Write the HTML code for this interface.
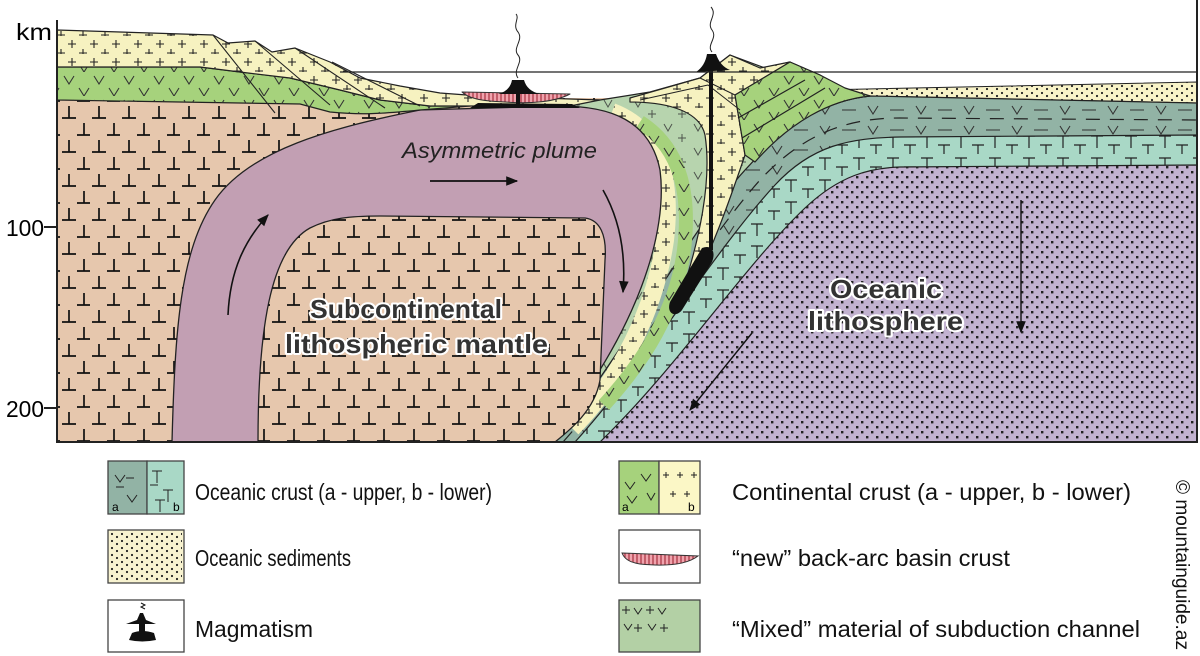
<!DOCTYPE html>
<html><head><meta charset="utf-8"><style>
html,body{margin:0;padding:0;background:#fff;}
svg{display:block;}
text{font-family:"Liberation Sans",Arial,sans-serif;}
</style></head><body>
<svg width="1200" height="656" viewBox="0 0 1200 656" xmlns="http://www.w3.org/2000/svg">
<defs>
<pattern id="pplus" width="22" height="18" patternUnits="userSpaceOnUse">
<path d="M6 4v8M2 8h8M17 13v8M13 17h8" stroke="#222" stroke-width="1.1" fill="none"/></pattern>
<pattern id="pv" width="30" height="24" patternUnits="userSpaceOnUse">
<path d="M4 4l5 8 5-8M19 16l5 8 5-8" stroke="#333" stroke-width="1.1" fill="none"/></pattern>
<pattern id="pt" width="30" height="34" patternUnits="userSpaceOnUse">
<path d="M2 16h14M9 4v12M17 33h14M24 21v12" stroke="#111" stroke-width="1.7" fill="none"/></pattern>
<pattern id="ptt" width="34" height="22" patternUnits="userSpaceOnUse">
<path d="M3 4h12M9 4v12M20 13h12M26 13v12" stroke="#222" stroke-width="1.2" fill="none"/></pattern>
<pattern id="pdot" width="10" height="10" patternUnits="userSpaceOnUse">
<rect x="1" y="1" width="2.4" height="2.4" fill="#222"/><rect x="6" y="6" width="2.4" height="2.4" fill="#222"/></pattern>
<pattern id="psed" width="10" height="7" patternUnits="userSpaceOnUse">
<circle cx="2" cy="2" r="1.1" fill="#222"/><circle cx="7" cy="5" r="1.1" fill="#222"/></pattern>
<pattern id="pvd" width="48" height="20" patternUnits="userSpaceOnUse">
<path d="M4 6l5 8 5-8M26 10h14" stroke="#333" stroke-width="1.1" fill="none"/></pattern>
<pattern id="pmix" width="30" height="24" patternUnits="userSpaceOnUse">
<path d="M4 4l4 7 4-7M22 14v8M18 18h8" stroke="#333" stroke-width="1" fill="none"/></pattern>
<pattern id="pstripe" width="4" height="10" patternUnits="userSpaceOnUse">
<rect width="4" height="10" fill="#f0a3ad"/><path d="M1 0v10" stroke="#a5303e" stroke-width="1.2"/></pattern>
<marker id="ah2" viewBox="0 0 10 10" refX="9" refY="5" markerWidth="14" markerHeight="12" orient="auto" markerUnits="userSpaceOnUse"><path d="M0 1L10 5L0 9Z" fill="#111"/></marker>
<clipPath id="frame"><rect x="57" y="0" width="1140" height="442"/></clipPath>
</defs>

<g clip-path="url(#frame)" stroke-linejoin="round">
<!-- mantle -->
<rect x="57" y="98" width="600" height="344" fill="#e6c7ad"/>
<rect x="57" y="98" width="600" height="344" fill="url(#pt)"/>

<!-- sediments -->
<path d="M820 90 L1197 82 L1197 103 L870 96 Z" fill="#f8f3c8" stroke="#222" stroke-width="1"/>
<path d="M820 90 L1197 82 L1197 103 L870 96 Z" fill="url(#psed)"/>
<!-- upper oceanic crust -->
<path d="M552 442 C620 360 690 230 745 170 C790 120 830 100 870 96 L1197 103 L1197 442 Z" fill="#92b3a5" stroke="#222" stroke-width="1.2"/>
<path d="M552 442 C620 360 690 230 745 170 C790 120 830 100 870 96 L1197 103 L1197 442 Z" fill="url(#pvd)"/>
<path d="M563 442 C632 365 702 245 760 180 C802 135 845 118 900 118 L1197 120" fill="none" stroke="#222" stroke-width="1.2" stroke-dasharray="14 10"/>
<!-- lower oceanic crust -->
<path d="M575 442 C645 365 715 250 775 185 C812 145 850 138 900 137 L1197 135 L1197 442 Z" fill="#a9d8c6" stroke="#222" stroke-width="1.2"/>
<path d="M575 442 C645 365 715 250 775 185 C812 145 850 138 900 137 L1197 135 L1197 442 Z" fill="url(#ptt)"/>
<!-- oceanic lithosphere -->
<path d="M600 442 C675 370 745 265 805 208 C840 175 870 168 900 167 L1197 165 L1197 442 Z" fill="#c2b2d0" stroke="#222" stroke-width="1.2"/>
<path d="M600 442 C675 370 745 265 805 208 C840 175 870 168 900 167 L1197 165 L1197 442 Z" fill="url(#pdot)"/>

<!-- wedge mixed -->
<path d="M540 442 L552 442 C620 360 690 230 745 170 C790 120 830 100 870 96 L840 88 L820 75 L790 62 L765 68 L730 55 L700 78 L650 92 L600 100 L560 100 Z" fill="#b7d4ae" stroke="#222" stroke-width="1.2"/>
<path d="M540 442 L552 442 C620 360 690 230 745 170 C790 120 830 100 870 96 L840 88 L820 75 L790 62 L765 68 L730 55 L700 78 L650 92 L600 100 L560 100 Z" fill="url(#pmix)" opacity="0.8"/>
<path d="M612 112 C660 130 672 180 665 240 C655 310 620 380 572 428" fill="none" stroke="#f6f2c0" stroke-width="18"/>
<path d="M612 112 C660 130 672 180 665 240 C655 310 620 380 572 428" fill="none" stroke="url(#pplus)" stroke-width="18"/>
<path d="M640 122 C684 150 690 200 684 250 C676 310 645 360 604 405" fill="none" stroke="#a6d27c" stroke-width="14"/>
<path d="M640 122 C684 150 690 200 684 250 C676 310 645 360 604 405" fill="none" stroke="url(#pv)" stroke-width="14"/>
<path d="M630 98 L700 78 L730 55 L760 68 L790 62 L735 95 L745 155 C728 205 712 250 690 292 L680 298 C700 240 712 180 705 135 C700 112 670 102 630 102 Z" fill="#f6f2c0" stroke="#222" stroke-width="1.2"/>
<path d="M630 98 L700 78 L730 55 L760 68 L790 62 L735 95 L745 155 C728 205 712 250 690 292 L680 298 C700 240 712 180 705 135 C700 112 670 102 630 102 Z" fill="url(#pplus)"/>
<path d="M735 95 L790 62 L820 75 L845 88 L870 96 C830 100 790 122 755 162 L745 155 Z" fill="#a6d27c" stroke="#222" stroke-width="1.2"/>
<path d="M735 95 L790 62 L820 75 L845 88 L870 96 C830 100 790 122 755 162 L745 155 Z" fill="url(#pv)"/>
<path d="M738 118 L805 80 M742 138 L825 88" stroke="#222" stroke-width="1.2" fill="none"/>
<path d="M640 100 L708 85 L740 110 M700 78 L735 95" stroke="#222" stroke-width="1" fill="none"/>

<!-- plume -->
<path d="M172 442 C175 330 180 250 215 200 C250 150 330 128 420 110 L560 106 C610 106 650 120 660 170 C668 230 640 330 548 442 Z" fill="#c29fb3" stroke="#222" stroke-width="1.3"/>
<path d="M258 442 C258 330 270 250 310 228 C330 218 350 216 380 216 L585 218 C600 220 607 235 605 260 L600 380 C595 410 570 430 555 442 Z" fill="#e6c7ad" stroke="#222" stroke-width="1.3"/>
<path d="M258 442 C258 330 270 250 310 228 C330 218 350 216 380 216 L585 218 C600 220 607 235 605 260 L600 380 C595 410 570 430 555 442 Z" fill="url(#pt)"/>

<!-- left continental crust -->
<path d="M57 67 L200 67 L240 72 L290 78 L340 90 L380 100 L430 106 L470 106 L420 110 C380 114 360 115 330 112 L300 104 L57 100 Z" fill="#a6d27c" stroke="#222" stroke-width="1.2"/>
<path d="M57 67 L200 67 L240 72 L290 78 L340 90 L380 100 L430 106 L470 106 L420 110 C380 114 360 115 330 112 L300 104 L57 100 Z" fill="url(#pv)"/>
<path d="M57 30 L213 35 L228 43 L255 41 L272 52 L295 48 L330 62 L360 78 L400 86 L440 93 L480 96 L600 100 L570 106 L470 106 L430 106 L380 100 L340 90 L290 78 L240 72 L200 67 L57 67 Z" fill="#f6f2c0" stroke="#222" stroke-width="1.2"/>
<path d="M57 30 L213 35 L228 43 L255 41 L272 52 L295 48 L330 62 L360 78 L400 86 L440 93 L480 96 L600 100 L570 106 L470 106 L430 106 L380 100 L340 90 L290 78 L240 72 L200 67 L57 67 Z" fill="url(#pplus)"/>
<path d="M213 35 L275 113 M255 41 L330 105 M295 48 L385 108 M332 62 L420 106" stroke="#222" stroke-width="1.1" fill="none"/>

<!-- back-arc lens -->
<path d="M462 92 L570 94 C555 102 530 104 505 102 C480 101 468 98 462 92 Z" fill="url(#pstripe)" stroke="#333" stroke-width="1"/>
<path d="M478 103 L572 104 L580 108 L470 108 Z" fill="#111"/>
<path d="M498 94 Q510 91 512 80 L524 80 Q527 91 540 94 Z" fill="#111"/>
<path d="M516 94 h4 v10 h-4 Z" fill="#111"/>
<path d="M518 78 C512 70 524 62 518 55 C512 48 524 40 518 32 C512 25 520 18 516 14" fill="none" stroke="#222" stroke-width="1"/>

<!-- magmatism right -->
<path d="M711 250 L711 66" stroke="#111" stroke-width="4"/>
<path d="M696 72 Q705 66 707 54 L716 54 Q720 66 730 70 Z" fill="#111"/>
<path d="M712 52 C706 45 718 38 712 30 C706 22 718 15 711 7" fill="none" stroke="#222" stroke-width="1"/>
<path d="M702 248 C712 244 716 252 712 262 L682 310 C676 318 666 314 670 302 Z" fill="#111"/>
</g>

<path d="M57 20 V442 H1197 V0" fill="none" stroke="#222" stroke-width="2"/>
<path d="M340 72 H1197" stroke="#222" stroke-width="1.2"/>
<path d="M44 227 H57 M44 408 H57" stroke="#222" stroke-width="2"/>

<path d="M430 181 H517" stroke="#111" stroke-width="1.8" marker-end="url(#ah2)"/>
<path d="M228 315 C230 270 245 240 268 215" fill="none" stroke="#111" stroke-width="1.6" marker-end="url(#ah2)"/>
<path d="M603 190 C620 220 626 255 623 292" fill="none" stroke="#111" stroke-width="1.6" marker-end="url(#ah2)"/>
<path d="M1021 200 V332" stroke="#111" stroke-width="1.4" marker-end="url(#ah2)"/>
<path d="M752 333 L690 410" stroke="#111" stroke-width="1.4" marker-end="url(#ah2)"/>

<text x="16" y="40" font-size="23" textLength="36" lengthAdjust="spacingAndGlyphs">km</text>
<text x="6" y="236" font-size="23" textLength="38" lengthAdjust="spacingAndGlyphs">100</text>
<text x="6" y="417" font-size="23" textLength="38" lengthAdjust="spacingAndGlyphs">200</text>
<text x="402" y="158" font-size="22" font-style="italic" fill="#222" textLength="195" lengthAdjust="spacingAndGlyphs">Asymmetric plume</text>
<g font-weight="bold" font-size="26" fill="#333" stroke="#fff" stroke-width="4" paint-order="stroke" stroke-linejoin="round">
<text x="310" y="318" textLength="192" lengthAdjust="spacingAndGlyphs">Subcontinental</text>
<text x="285" y="353" textLength="263" lengthAdjust="spacingAndGlyphs">lithospheric mantle</text>
<text x="830" y="298" textLength="112" lengthAdjust="spacingAndGlyphs">Oceanic</text>
<text x="808" y="330" textLength="155" lengthAdjust="spacingAndGlyphs">lithosphere</text>
</g>

<g stroke="#444" stroke-width="1.3">
<rect x="108" y="461" width="39" height="53" fill="#92b3a5"/>
<rect x="147" y="461" width="37" height="53" fill="#a9d8c6"/>
<rect x="108" y="530" width="76" height="53" fill="#f8f3d0"/>
<rect x="108" y="600" width="76" height="52" fill="#fff"/>
<rect x="619" y="461" width="40" height="53" fill="#a6d27c"/>
<rect x="659" y="461" width="41" height="53" fill="#fbf7c6"/>
<rect x="619" y="530" width="81" height="53" fill="#fff"/>
<rect x="619" y="600" width="81" height="52" fill="#b3d0a5"/>
</g>
<g stroke="#222" stroke-width="1" fill="none">
<path d="M115 475l5 7 5-7M126 478h8M116 487h8M127 495l5 7 5-7"/>
<path d="M152 471h10M157 471v12M150 485h8M163 490h10M168 490v12M155 500h10M160 500v12"/>
<path d="M625 482l5 7 5-7M641 474l5 7 5-7M627 496l5 7 5-7M647 493l4 7 4-7"/>
<path d="M663 475h6M666 472v6M677 475h6M680 472v6M691 475h6M694 472v6M670 494h6M673 491v6M684 494h6M687 491v6"/>
<path d="M622 610h8M626 606v8M634 608l4 6 4-6M646 610h8M650 606v8M658 608l4 6 4-6M624 624l4 6 4-6M634 628h8M638 624v8M648 624l4 6 4-6M660 628h8M664 624v8"/>
</g>
<text x="112" y="511" font-size="12">a</text><text x="173" y="511" font-size="12">b</text>
<text x="622" y="511" font-size="12">a</text><text x="688" y="511" font-size="12">b</text>
<rect x="110" y="532" width="72" height="49" fill="url(#psed)"/>
<path d="M622 553 L698 556 C685 566 660 566 640 564 C628 562 624 558 622 553 Z" fill="url(#pstripe)" stroke="#333" stroke-width="1"/>
<path d="M140 613 L137 620 L126 624 L156 624 L146 620 L143 613 Z M139 624 h6 v9 h-6 Z M132 633 Q142 629 154 633 L156 640 Q142 643 129 640 Z" fill="#111"/>
<path d="M141 603 l4 2 -4 2 4 2" stroke="#111" fill="none"/>

<g font-size="23" fill="#111">
<text x="195" y="500" textLength="297" lengthAdjust="spacingAndGlyphs">Oceanic crust (a - upper, b - lower)</text>
<text x="195" y="566" textLength="156" lengthAdjust="spacingAndGlyphs">Oceanic sediments</text>
<text x="195" y="637" textLength="118" lengthAdjust="spacingAndGlyphs">Magmatism</text>
<text x="732" y="500" textLength="399" lengthAdjust="spacingAndGlyphs">Continental crust (a - upper, b - lower)</text>
<text x="732" y="566" textLength="278" lengthAdjust="spacingAndGlyphs">“new” back-arc basin crust</text>
<text x="732" y="637" textLength="408" lengthAdjust="spacingAndGlyphs">“Mixed” material of subduction channel</text>
</g>
<text transform="translate(1176 480) rotate(90)" font-size="19" fill="#111" textLength="170" lengthAdjust="spacingAndGlyphs">© mountainguide.az</text>
</svg>
</body></html>
